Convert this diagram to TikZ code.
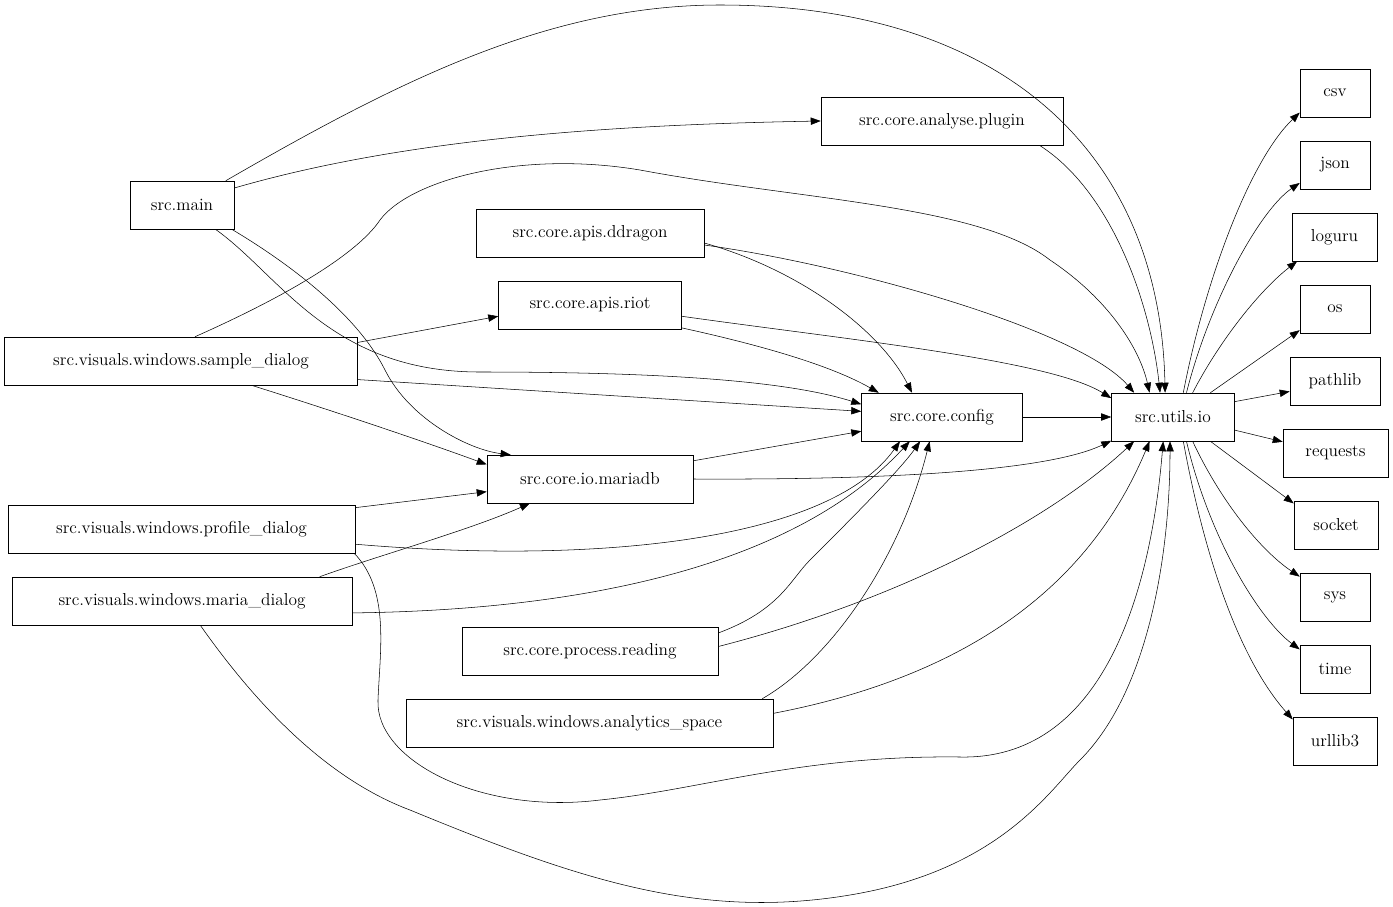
\documentclass[tikz,border=0pt]{standalone}
\usetikzlibrary{arrows.meta}
\begin{document}
\begin{tikzpicture}[x=0.75pt,y=-0.75pt,
    box/.style={draw, minimum height=36pt, minimum width=#1*0.75pt, inner sep=2pt, font=\fontsize{13}{15}\selectfont},
    dep/.style={-{Triangle[length=7.5pt,width=5.5pt]}}]
\useasboundingbox (0,0) rectangle (1393,907);

% modules
\node[box=104] (main) at (182,205) {src.main};
\node[box=242] (plugin) at (942,121) {src.core.analyse.plugin};
\node[box=228] (ddragon) at (590,233) {src.core.apis.ddragon};
\node[box=183] (riot) at (590,305) {src.core.apis.riot};
\node[box=353] (sample) at (181,361) {src.visuals.windows.sample\_dialog};
\node[box=161] (config) at (942,417) {src.core.config};
\node[box=123] (utils) at (1173,417) {src.utils.io};
\node[box=206] (mariadb) at (590,479) {src.core.io.mariadb};
\node[box=347] (profile) at (181.5,529) {src.visuals.windows.profile\_dialog};
\node[box=340] (maria) at (182,601) {src.visuals.windows.maria\_dialog};
\node[box=256] (reading) at (590,651) {src.core.process.reading};
\node[box=367] (analytics) at (589.5,723) {src.visuals.windows.analytics\_space};

% external packages
\node[box=70] (csv) at (1335,93) {csv};
\node[box=70] (json) at (1335,165) {json};
\node[box=85] (loguru) at (1334.5,237) {loguru};
\node[box=70] (os) at (1335,309) {os};
\node[box=90] (pathlib) at (1335,381) {pathlib};
\node[box=105] (requests) at (1335.5,453) {requests};
\node[box=84] (socket) at (1336,525) {socket};
\node[box=70] (sys) at (1335,597) {sys};
\node[box=70] (time) at (1335,669) {time};
\node[box=84] (urllib3) at (1335,741) {urllib3};

% src.main
\draw[dep] (main.29) .. controls (400,80) and (550,5) .. (720,5) .. controls (1000,5) and (1160,150) .. (utils.108);
\draw[dep] (main.18) .. controls (400,140) and (600,125) .. (plugin.west);
\draw[dep] (main.-36) .. controls (280,275) and (330,372) .. (480,372) .. controls (700,372) and (800,385) .. (config.171.5);
\draw[dep] (main.-26) .. controls (300,270) and (360,320) .. (385,370) .. controls (410,420) and (470,450) .. (mariadb.163);

% core modules
\draw[dep] (plugin.-14) .. controls (1110,190) and (1150,300) .. (utils.118);
\draw[dep] (ddragon.-5) .. controls (800,270) and (880,330) .. (config.141);
\draw[dep] (ddragon.-6) .. controls (850,265) and (1080,330) .. (utils.148);
\draw[dep] (riot.-14) .. controls (760,345) and (830,365) .. (config.159);
\draw[dep] (riot.-7) .. controls (850,340) and (1050,360) .. (utils.163);
\draw[dep] (config.east) -- (utils.west);
\draw[dep] (mariadb.10.5) -- (config.-170);
\draw[dep] (mariadb.0) .. controls (900,480) and (1050,470) .. (utils.-159);
\draw[dep] (reading.8.4) .. controls (780,610) and (790,580) .. (810,560) .. controls (850,520) and (900,470) .. (config.-132.5);
\draw[dep] (reading.2.7) .. controls (900,600) and (1050,520) .. (utils.-148);
\draw[dep] (analytics.8.4) .. controls (830,660) and (900,560) .. (config.-117);
\draw[dep] (analytics.3.7) .. controls (1000,670) and (1100,560) .. (utils.-134);

% sample dialog
\draw[dep] (sample.6.8) -- (riot.-173);
\draw[dep] (sample.-6) -- (config.176);
\draw[dep] (sample.-19) .. controls (330,410) and (420,440) .. (mariadb.172);
\draw[dep] (sample.60) .. controls (300,290) and (360,250) .. (380,220) .. controls (410,180) and (520,150) .. (640,170) .. controls (800,200) and (980,205) .. (1050,260) .. controls (1110,300) and (1140,350) .. (utils.134);

% profile dialog
\draw[dep] (profile.7.5) -- (mariadb.-173);
\draw[dep] (profile.-5.6) .. controls (600,565) and (830,540) .. (config.-150);
\draw[dep] (profile.-8.4) .. controls (390,590) and (380,650) .. (378,700) .. controls (375,760) and (480,815) .. (600,800) .. controls (700,790) and (800,755) .. (960,757) .. controls (1100,760) and (1150,600) .. (utils.-112.6);

% maria dialog
\draw[dep] (maria.10.5) .. controls (380,555) and (470,530) .. (mariadb.-158);
\draw[dep] (maria.-4.7) .. controls (600,610) and (800,560) .. (config.-143);
\draw[dep] (maria.-53) .. controls (260,710) and (330,780) .. (410,810) .. controls (580,880) and (700,920) .. (850,895) .. controls (1000,870) and (1050,790) .. (1080,760) .. controls (1150,690) and (1170,550) .. (utils.-97);

% src.utils.io
\draw[dep] (utils.67) .. controls (1205,280) and (1250,160) .. (csv.-151.5);
\draw[dep] (utils.61.5) .. controls (1210,300) and (1260,210) .. (json.-153);
\draw[dep] (utils.51.6) .. controls (1220,340) and (1260,290) .. (loguru.-147);
\draw[dep] (utils.33) -- (os.-149);
\draw[dep] (utils.14) -- (pathlib.-167.5);
\draw[dep] (utils.-12) -- (requests.168);
\draw[dep] (utils.-33) -- (socket.153);
\draw[dep] (utils.-51.6) .. controls (1220,500) and (1260,550) .. (sys.150);
\draw[dep] (utils.-61.5) .. controls (1210,540) and (1260,620) .. (time.151.5);
\draw[dep] (utils.-67) .. controls (1205,560) and (1240,660) .. (urllib3.153);

\end{tikzpicture}
\end{document}
